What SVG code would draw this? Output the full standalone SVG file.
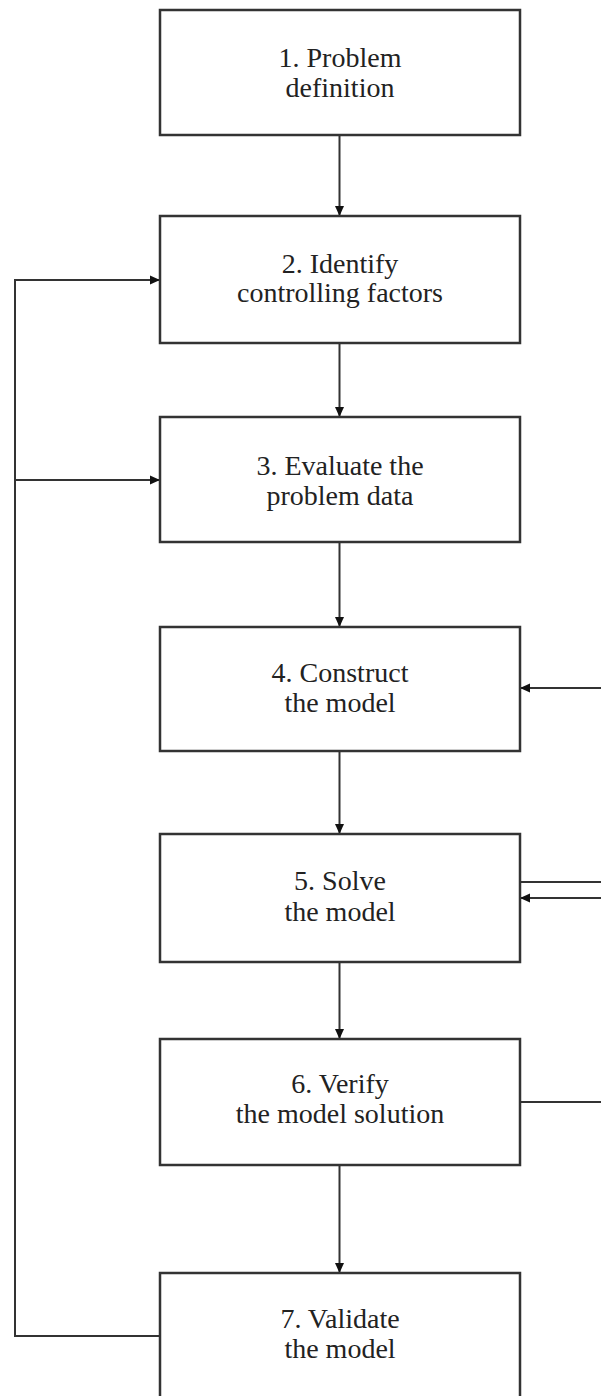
<svg xmlns="http://www.w3.org/2000/svg" width="601" height="1396" viewBox="0 0 601 1396">
<defs>
<marker id="arr" markerUnits="userSpaceOnUse" markerWidth="10" markerHeight="10" viewBox="0 0 10 10" refX="10" refY="5" orient="auto">
<path d="M0,0.5 L10,5 L0,9.5 Z" fill="#111"/>
</marker>
<style>
.box{fill:#fff;stroke:#333;stroke-width:2.5}
.lbl{font-family:"Liberation Serif","Times New Roman",serif;font-size:28px;fill:#222;text-anchor:middle}
.con{fill:none;stroke:#333;stroke-width:2}
.ah{marker-end:url(#arr)}
</style>
</defs>
<rect width="601" height="1396" fill="#fff"/>
<g id="connectors">
<line class="con ah" x1="339.5" y1="135" x2="339.5" y2="216"/>
<line class="con ah" x1="339.5" y1="343" x2="339.5" y2="417"/>
<line class="con ah" x1="339.5" y1="542" x2="339.5" y2="627"/>
<line class="con ah" x1="339.5" y1="751" x2="339.5" y2="834"/>
<line class="con ah" x1="339.5" y1="962" x2="339.5" y2="1039"/>
<line class="con ah" x1="339.5" y1="1165" x2="339.5" y2="1273"/>
<polyline class="con" points="160,1336 15,1336 15,280 30,280"/>
<line class="con ah" x1="15" y1="280" x2="160" y2="280"/>
<line class="con ah" x1="15" y1="480" x2="160" y2="480"/>
<line class="con ah" x1="601" y1="688" x2="520" y2="688"/>
<line class="con" x1="520" y1="882" x2="601" y2="882"/>
<line class="con ah" x1="601" y1="898" x2="520" y2="898"/>
<line class="con" x1="520" y1="1102" x2="601" y2="1102"/>
</g>
<g id="n1">
<rect class="box" x="160" y="10" width="360" height="125"/>
<text class="lbl" x="340" y="67">1. Problem</text>
<text class="lbl" x="340" y="97">definition</text>
</g>
<g id="n2">
<rect class="box" x="160" y="216" width="360" height="127"/>
<text class="lbl" x="340" y="273">2. Identify</text>
<text class="lbl" x="340" y="302">controlling factors</text>
</g>
<g id="n3">
<rect class="box" x="160" y="417" width="360" height="125"/>
<text class="lbl" x="340" y="475">3. Evaluate the</text>
<text class="lbl" x="340" y="505">problem data</text>
</g>
<g id="n4">
<rect class="box" x="160" y="627" width="360" height="124"/>
<text class="lbl" x="340" y="682">4. Construct</text>
<text class="lbl" x="340" y="712">the model</text>
</g>
<g id="n5">
<rect class="box" x="160" y="834" width="360" height="128"/>
<text class="lbl" x="340" y="890">5. Solve</text>
<text class="lbl" x="340" y="921">the model</text>
</g>
<g id="n6">
<rect class="box" x="160" y="1039" width="360" height="126"/>
<text class="lbl" x="340" y="1093">6. Verify</text>
<text class="lbl" x="340" y="1123">the model solution</text>
</g>
<g id="n7">
<rect class="box" x="160" y="1273" width="360" height="140"/>
<text class="lbl" x="340" y="1328">7. Validate</text>
<text class="lbl" x="340" y="1358">the model</text>
</g>
</svg>
